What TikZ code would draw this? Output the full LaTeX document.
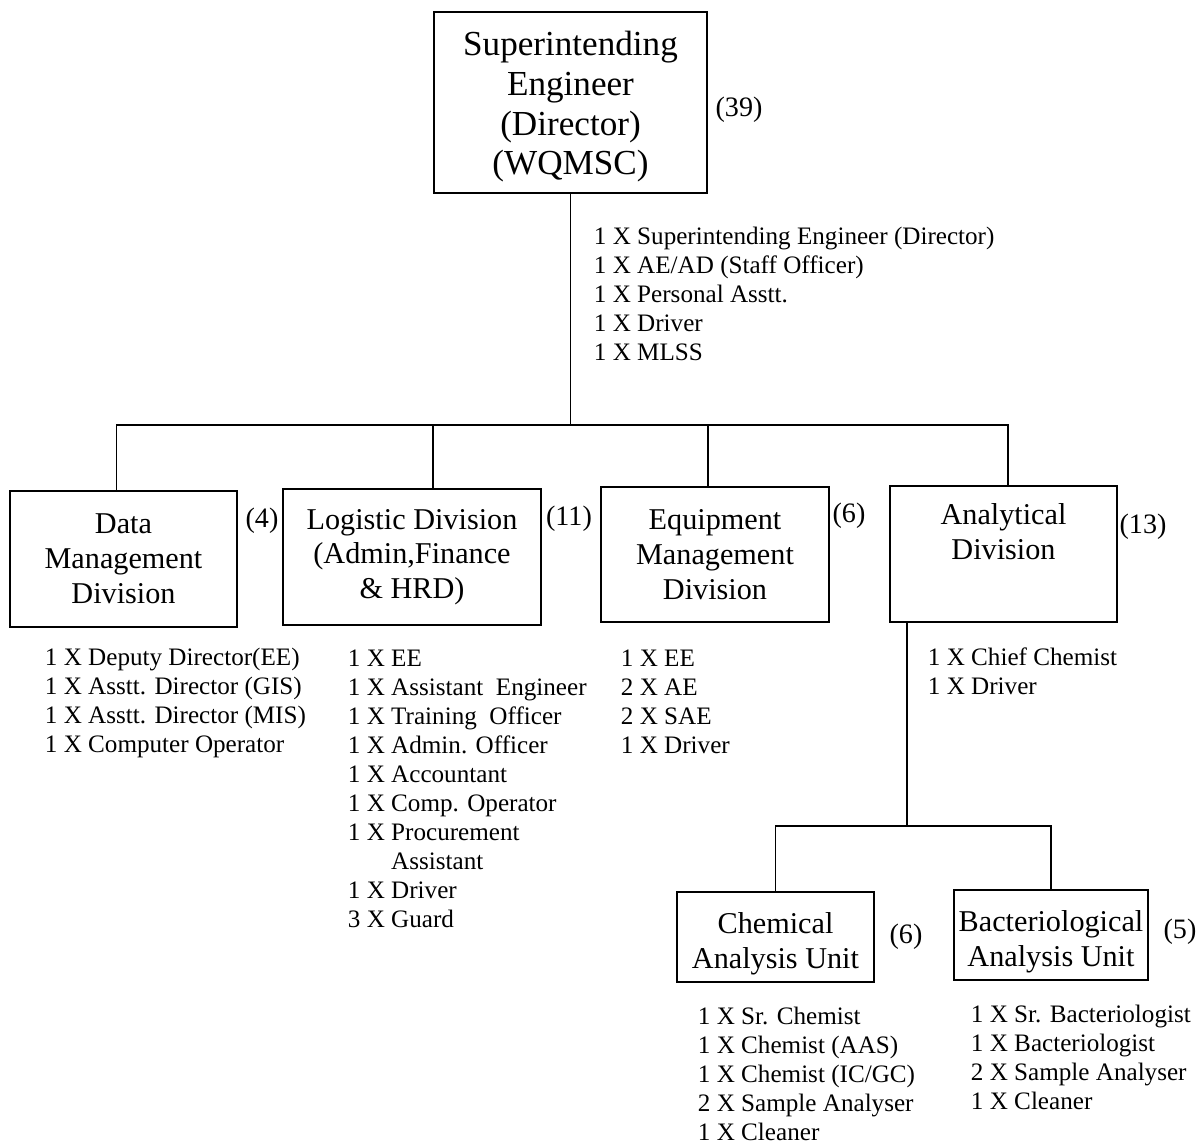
\documentclass[tikz,border=0pt]{standalone}
\usepackage{fontspec}
\setmainfont{Liberation Serif}
\usetikzlibrary{positioning,calc}

\begin{document}
\begin{tikzpicture}[x=0.02cm, y=-0.02cm, line width=1.1pt,
    box/.style={draw, align=center, inner sep=0},
    head/.style={box, font=\fontsize{20}{22.5}\selectfont,
      minimum width=5.46cm, minimum height=3.62cm,
      text height=82pt, text depth=0pt},
    division/.style={box, font=\fontsize{17.2}{19.8}\selectfont,
      minimum width=4.54cm, minimum height=2.72cm},
    unit/.style={box, font=\fontsize{17.2}{19.8}\selectfont,
      minimum width=3.9cm, minimum height=1.8cm,
      text height=36pt, text depth=0pt},
    count/.style={font=\fontsize{16}{18}\selectfont, inner sep=0},
    staff/.style={anchor=north west, align=left, inner sep=0,
      font=\fontsize{14.3}{16.5}\selectfont}]

  \path[use as bounding box, fill=white] (0,0) rectangle (1200,1144);

  % director
  \node[head] (se) at (570.5,102.5) {Superintending\\Engineer\\(Director)\\(WQMSC)};
  \node[count] (se-n) at (739,110) {(39)};
  \node[staff] (se-staff) at (593,226) {1 X Superintending Engineer (Director)\\
    1 X AE/AD (Staff Officer)\\1 X Personal Asstt.\\1 X Driver\\1 X MLSS};

  % divisions
  \node[division] (dm) at (123.5,559) {Data\\Management\\Division};
  \node[division, minimum width=5.16cm] (lg) at (412,557) {Logistic Division\\(Admin,Finance\\\& HRD)};
  \node[division, minimum width=4.56cm, minimum height=2.7cm] (eq) at (715,554.5) {Equipment\\Management\\Division};
  \node[division] (an) at (1003.5,554) {Analytical\\Division\\ \strut};

  \node[count] (dm-n) at (262,521) {(4)};
  \node[count] (lg-n) at (569,519) {(11)};
  \node[count] (eq-n) at (849,516) {(6)};
  \node[count] (an-n) at (1143,527) {(13)};

  \node[staff] (dm-staff) at (44,647) {1 X Deputy Director(EE)\\1 X Asstt. Director (GIS)\\
    1 X Asstt. Director (MIS)\\1 X Computer Operator};
  \node[staff] (lg-staff) at (347,649) {1 X EE\\1 X Assistant\ \ Engineer\\1 X Training\ \ Officer\\
    1 X Admin. Officer\\1 X Accountant\\1 X Comp. Operator\\1 X Procurement\\
    \phantom{1 X }Assistant\\1 X Driver\\3 X Guard};
  \node[staff] (eq-staff) at (620,649) {1 X EE\\2 X AE\\2 X SAE\\1 X Driver};
  \node[staff] (an-staff) at (927,647) {1 X Chief Chemist\\1 X Driver};

  % units
  \node[unit, minimum width=3.94cm] (ch) at (775.5,937) {Chemical\\Analysis Unit};
  \node[unit, minimum width=3.88cm] (ba) at (1051,935) {Bacteriological\\Analysis Unit};

  \node[count] (ch-n) at (906,937) {(6)};
  \node[count] (ba-n) at (1180,932) {(5)};

  \node[staff] (ch-staff) at (697,1006) {1 X Sr. Chemist\\1 X Chemist (AAS)\\1 X Chemist (IC/GC)\\
    2 X Sample Analyser\\1 X Cleaner};
  \node[staff] (ba-staff) at (970,1004) {1 X Sr. Bacteriologist\\1 X Bacteriologist\\
    2 X Sample Analyser\\1 X Cleaner};

  % connectors
  \coordinate (bus) at (0,425);
  \coordinate (sub) at (0,826);
  \coordinate (dm-top) at ($(dm.north)+(-7,0)$);
  \coordinate (an-top) at ($(an.north)+(4.5,0)$);
  \coordinate (an-foot) at ($(an.south west)+(18,0)$);

  \draw (se.south) -- (se.south |- bus);
  \draw (dm-top) |- (an-top |- bus) -- (an-top);
  \draw (lg.north -| se.west) -- (se.west |- bus);
  \draw (eq.north -| se.east) -- (se.east |- bus);

  \draw (an-foot) -- (an-foot |- sub);
  \draw (ch.north) |- (ba.north |- sub) -- (ba.north);
\end{tikzpicture}
\end{document}
